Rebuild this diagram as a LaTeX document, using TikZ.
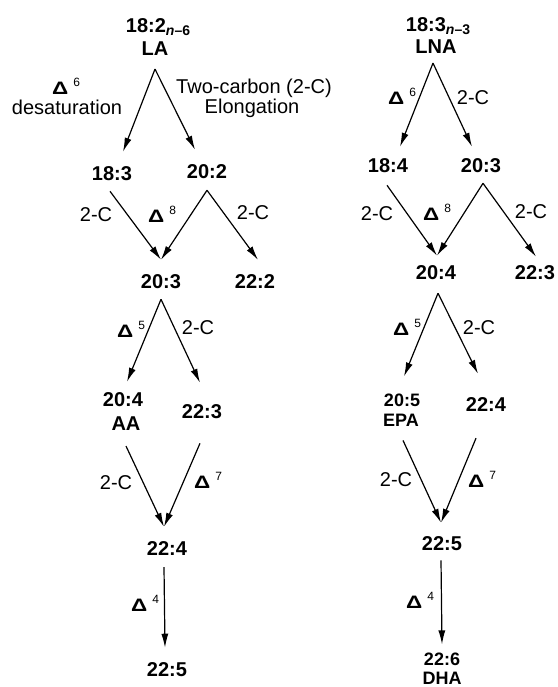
\documentclass[tikz,border=0pt]{standalone}
\usepackage{fontspec}
\setmainfont{Liberation Sans}
\usepackage{tikz}
\usetikzlibrary{arrows.meta}
\tikzset{
  fa/.style={font=\fontsize{20}{24}\selectfont\bfseries, inner sep=0pt},
  fasm/.style={font=\fontsize{18}{21}\selectfont\bfseries, inner sep=0pt},
  note/.style={font=\fontsize{20}{24}\selectfont, inner sep=0pt},
  dl/.style={note, anchor=base},
  arr/.style={-{Latex[length=14pt,width=7pt]}, line width=1.2pt},
}
\newcommand{\fasub}[2]{\raisebox{-3pt}{\fontsize{14}{16}\selectfont\textit{#1}--#2}}
\newcommand{\dsat}[1]{\scalebox{1.25}[1]{\fontsize{18}{21}\selectfont\bfseries Δ}\hspace{5pt}\raisebox{8pt}{\fontsize{12}{14}\selectfont #1}}

\begin{document}
\begin{tikzpicture}[x=1pt,y=-1pt]
  \useasboundingbox (0,0) rectangle (557,687);
  % n-6 series
  \node[fa, anchor=base] (la-c) at (158,33) {18:2\fasub{n}{6}};
  \node[fa] (la) at (155,49) {LA};
  \node[dl] at (66,95) {\dsat{6}};
  \node[note, anchor=base] at (67,115) {desaturation};
  \node[note, anchor=base] at (254,94) {Two-carbon (2-C)};
  \node[note, anchor=base] at (252,113.5) {Elongation};
  \node[fa] (a183) at (112,174) {18:3};
  \node[fa] (a202) at (207,172) {20:2};
  \node[note] at (96,215) {2-C};
  \node[dl] at (162,222) {\dsat{8}};
  \node[note] at (253,213) {2-C};
  \node[fa] (a203) at (161,282) {20:3};
  \node[fa] (a222) at (255,282) {22:2};
  \node[dl] at (131,337) {\dsat{5}};
  \node[note] at (198,328) {2-C};
  \node[fa] (a204) at (123,400) {20:4};
  \node[fa] (aa) at (126,424) {AA};
  \node[fa] (a223) at (202,412) {22:3};
  \node[note] at (116,483) {2-C};
  \node[dl] at (208,488) {\dsat{7}};
  \node[fa] (a224) at (167,549) {22:4};
  \node[dl] at (145,611) {\dsat{4}};
  \node[fa] (a225) at (167,670) {22:5};

  \draw[arr] ([yshift=-13pt]la.south) -- ([xshift=11pt,yshift=15pt]a183.north);
  \draw[arr] ([yshift=-13pt]la.south) -- ([xshift=-12pt,yshift=15pt]a202.north);
  \draw[arr] ([xshift=-2pt,yshift=-10pt]a183.south) -- ([yshift=15pt]a203.north);
  \draw[arr] ([yshift=-11pt]a202.south) -- ([yshift=15pt]a203.north);
  \draw[arr] ([yshift=-11pt]a202.south) -- ([xshift=3pt,yshift=15pt]a222.north);
  \draw[arr] ([yshift=-10pt]a203.south) -- ([xshift=4pt,yshift=11pt]a204.north);
  \draw[arr] ([yshift=-10pt]a203.south) -- ([xshift=-2pt,yshift=22pt]a223.north);
  \draw[arr] ([yshift=-15pt]aa.south) -- ([xshift=-3pt,yshift=15pt]a224.north);
  \draw[arr] ([xshift=-2pt,yshift=-24pt]a223.south) -- ([xshift=-3pt,yshift=15pt]a224.north);
  \draw[arr] ([xshift=-3pt,yshift=-11pt]a224.south) -- ([xshift=-2pt,yshift=15pt]a225.north);

  % n-3 series
  \node[fa, anchor=base] (lna-c) at (438,32) {18:3\fasub{n}{3}};
  \node[fa] (lna) at (436,47) {LNA};
  \node[dl] at (402,105) {\dsat{6}};
  \node[note] at (473,98) {2-C};
  \node[fa] (b184) at (388,166) {18:4};
  \node[fa] (b203) at (481,166) {20:3};
  \node[note] at (377,214) {2-C};
  \node[dl] at (437,220) {\dsat{8}};
  \node[note] at (531,212) {2-C};
  \node[fa] (b204) at (436,273) {20:4};
  \node[fa] (b223) at (535,273) {22:3};
  \node[dl] at (407,335) {\dsat{5}};
  \node[note] at (479,328) {2-C};
  \node[fasm] (b205) at (402,400) {20:5};
  \node[fasm] (epa) at (401,420) {EPA};
  \node[fa] (b224) at (486,405) {22:4};
  \node[note] at (396,480) {2-C};
  \node[dl] at (482,487) {\dsat{7}};
  \node[fa] (b225) at (442,544) {22:5};
  \node[dl] at (420,608) {\dsat{4}};
  \node[fasm] (b226) at (442,659) {22:6};
  \node[fasm] (dha) at (442,678) {DHA};

  \draw[arr] ([xshift=-3pt,yshift=-9pt]lna.south) -- ([xshift=12pt,yshift=12pt]b184.north);
  \draw[arr] ([xshift=-3pt,yshift=-9pt]lna.south) -- ([xshift=-9pt,yshift=12pt]b203.north);
  \draw[arr] ([xshift=-1pt,yshift=-12pt]b184.south) -- ([xshift=1pt,yshift=10pt]b204.north);
  \draw[arr] ([xshift=2pt,yshift=-10pt]b203.south) -- ([xshift=1pt,yshift=10pt]b204.north);
  \draw[arr] ([xshift=2pt,yshift=-10pt]b203.south) -- ([xshift=1pt,yshift=9pt]b223.north);
  \draw[arr] ([xshift=2pt,yshift=-13pt]b204.south) -- ([xshift=2pt,yshift=17pt]b205.north);
  \draw[arr] ([xshift=2pt,yshift=-13pt]b204.south) -- ([xshift=-8pt,yshift=24pt]b224.north);
  \draw[arr] ([xshift=2pt,yshift=-14pt]epa.south) -- ([xshift=-1pt,yshift=14pt]b225.north);
  \draw[arr] ([xshift=-10pt,yshift=-26pt]b224.south) -- ([xshift=-1pt,yshift=14pt]b225.north);
  \draw[arr] ([xshift=-1pt,yshift=-9pt]b225.south) -- ([yshift=8pt]b226.north);
\end{tikzpicture}
\end{document}
